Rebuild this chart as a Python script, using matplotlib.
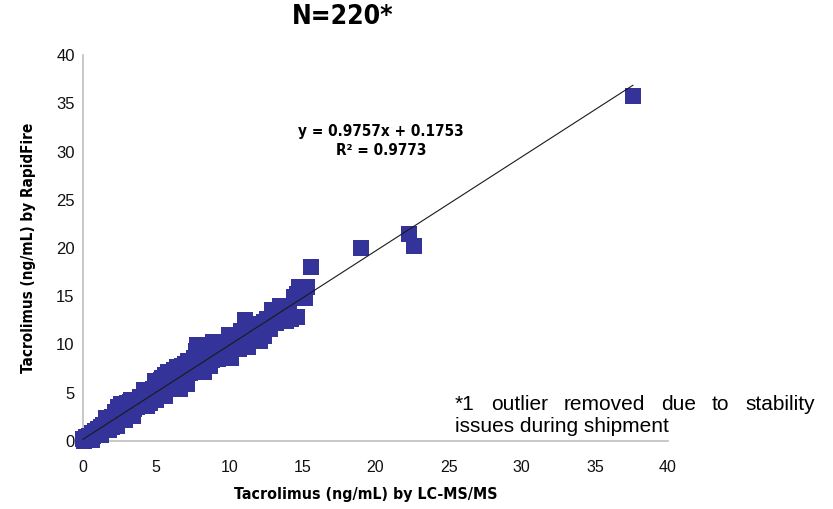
import matplotlib
matplotlib.use("Agg")
import matplotlib.pyplot as plt
import numpy as np
from matplotlib import font_manager

# ---------------- data ----------------
x_lcms = [0.0, 0.1, 0.2, 0.3, 0.4, 0.5, 0.6, 0.7, 0.8, 0.9, 1.0, 1.1, 1.2, 1.3, 1.4, 1.5,
          1.6, 1.7, 1.8, 1.9, 2.0, 2.1, 2.2, 2.3, 2.4, 2.5, 2.6, 2.7, 2.8, 2.9, 3.0, 3.1,
          3.2, 3.3, 3.4, 3.5, 3.6, 3.7, 3.8, 3.9, 4.0, 4.1, 4.2, 4.3, 4.4, 4.5, 4.6, 4.7,
          4.8, 4.9, 5.0, 5.1, 5.2, 5.3, 5.4, 5.5, 5.6, 5.7, 5.8, 5.9, 6.0, 6.1, 6.2, 6.3,
          6.4, 6.5, 6.6, 6.7, 6.8, 6.9, 7.0, 7.1, 7.2, 7.3, 7.4, 7.5, 7.6, 7.7, 7.8, 7.9,
          8.0, 8.1, 8.2, 8.3, 8.4, 8.5, 8.6, 8.8, 9.0, 9.2, 9.4, 9.6, 9.8, 10.0, 10.2, 10.4,
          10.6, 10.8, 11.0, 11.1, 11.3, 11.5, 11.8, 12.0, 12.2, 12.4, 12.4, 12.6, 12.9, 13.0,
          13.3, 13.6, 13.9, 14.0, 14.2, 14.4, 14.6, 14.8, 15.0, 15.2, 15.3, 15.6, 19.0, 22.3,
          22.6, 37.6,
          0.5, 1.0, 1.5, 2.0, 2.5, 3.0, 3.5, 4.0, 4.5, 5.0, 5.5, 6.0, 6.5, 7.0, 7.5, 8.0,
          8.5, 9.0, 9.5, 10.0, 10.5, 11.0, 11.5, 12.0, 13.0, 14.0, 3.0, 4.0, 5.0, 6.0, 7.0,
          8.0, 9.0, 2.0, 1.0, 0.2, 0.3,
          1.2, 1.8, 2.3, 2.6, 3.4, 3.9, 4.4, 4.9, 5.0, 5.6, 6.1, 6.6, 7.1, 7.7, 8.3, 8.9,
          9.5, 10.0, 10.1, 10.7, 11.2, 12.1, 12.8, 13.5, 14.1, 14.6, 2.0, 3.3, 4.6, 5.8,
          6.9, 8.7, 9.9, 11.4, 13.2, 0.6, 1.6, 2.9, 4.2, 5.3]
y_rapidfire = [0.2, 0.0, 0.4, 0.1, 0.5, 0.3, 0.8, 0.5, 1.0, 0.7, 1.2, 0.9, 1.5, 1.1, 1.7, 1.3,
               2.0, 1.5, 2.2, 1.7, 2.5, 1.9, 3.0, 2.1, 3.5, 2.4, 3.8, 2.6, 3.2, 2.8, 3.9, 2.9,
               4.0, 3.1, 3.6, 3.3, 4.1, 3.5, 4.3, 3.7, 4.5, 3.9, 4.9, 4.1, 5.1, 4.3, 5.0, 4.5,
               5.4, 4.6, 5.7, 4.8, 6.0, 4.9, 6.5, 5.2, 6.8, 5.5, 6.4, 5.7, 7.0, 5.9, 7.4, 6.1,
               7.7, 6.2, 7.2, 6.4, 7.8, 6.6, 8.0, 6.8, 8.3, 7.0, 8.1, 7.1, 8.6, 7.4, 10.0, 7.6,
               9.9, 7.8, 9.0, 8.0, 9.3, 8.1, 9.6, 8.4, 9.7, 8.5, 9.5, 8.6, 10.1, 9.2, 10.6, 11.0,
               9.8, 11.4, 10.2, 12.5, 9.7, 11.3, 10.5, 12.1, 11.0, 12.3, 10.9, 12.6, 13.6, 12.5,
               13.0, 13.4, 12.4, 14.0, 12.6, 14.9, 15.2, 16.0, 15.5, 14.8, 16.0, 18.0, 20.0, 21.5,
               20.2, 35.7,
               0.5, 1.0, 1.6, 2.1, 2.9, 3.2, 3.7, 4.2, 4.8, 5.2, 5.8, 6.4, 6.9, 7.3, 7.9, 8.5,
               8.9, 9.0, 9.6, 10.0, 10.4, 11.0, 12.0, 11.5, 13.2, 13.5, 3.6, 3.8, 4.9, 6.8, 6.9,
               7.9, 8.6, 1.8, 0.6, 0.2, 0.3,
               0.6, 1.1, 1.6, 3.6, 2.6, 4.6, 3.6, 6.2, 4.2, 4.7, 7.2, 5.4, 5.9, 9.3, 7.1, 10.3,
               8.7, 11.0, 8.6, 9.5, 11.8, 10.4, 11.6, 14.0, 13.4, 12.9, 1.5, 4.3, 3.9, 7.1,
               6.0, 7.8, 9.1, 10.6, 12.2, 0.1, 2.4, 2.2, 5.3, 6.3]

fit_slope = 0.9757
fit_intercept = 0.1753
r_squared = 0.9773

title_text = "N=220*"
x_label = "Tacrolimus (ng/mL) by LC-MS/MS"
y_label = "Tacrolimus (ng/mL) by RapidFire"
tick_values = [0, 5, 10, 15, 20, 25, 30, 35, 40]
note_line1 = ["*1", "outlier", "removed", "due", "to", "stability"]
note_line2 = "issues during shipment"

# ---------------- fonts ----------------
regular = "Liberation Sans"
cond = dict(family="DejaVu Sans", fontstretch="condensed", fontweight="bold")

W, H, DPI = 833, 509, 100
fig = plt.figure(figsize=(W / DPI, H / DPI), dpi=DPI)
ax = fig.add_axes([83 / W, 1 - 441 / H, (668 - 83) / W, (441 - 55) / H])

ax.plot(x_lcms, y_rapidfire, linestyle="none", marker="s", markersize=11,
        markeredgewidth=0, color="#333399", clip_on=False, zorder=3)

xs = np.array([min(x_lcms), max(x_lcms)])
ax.plot(xs, fit_slope * xs + fit_intercept, color="#1a1a1a", lw=0.8, zorder=4,
        clip_on=False)

ax.set_xlim(0, 40)
ax.set_ylim(0, 40)
ax.set_xticks(tick_values)
ax.set_yticks(tick_values)
ax.tick_params(length=0, pad=14)
ax.tick_params(axis="y", pad=6)
for lab in ax.get_xticklabels():
    lab.set_fontfamily(regular)
    lab.set_fontsize(11.5)
    lab.set_color("#111111")
for lab in ax.get_yticklabels():
    lab.set_fontfamily(regular)
    lab.set_fontsize(12)
    lab.set_color("#111111")
for s in ["top", "right"]:
    ax.spines[s].set_visible(False)
for s in ["left", "bottom"]:
    ax.spines[s].set_color("#BFBFBF")
    ax.spines[s].set_linewidth(1.2)
ax.patch.set_alpha(0)

# title
fig.text(343 / W, 1 - 17 / H, title_text, ha="center", va="center",
         fontsize=19, **cond)

# equation
eq = f"y = {fit_slope}x + {fit_intercept}\nR² = {r_squared}"
fig.text(381 / W, 1 - 141 / H, eq, ha="center", va="center", fontsize=11,
         linespacing=1.4, **cond)

# axis labels
fig.text(366 / W, 1 - 495 / H, x_label, ha="center", va="center",
         fontsize=11.4, **cond)
fig.text(29 / W, 1 - 248 / H, y_label, ha="center", va="center", rotation=90,
         fontsize=11, **cond)

# note (justified first line)
fig.canvas.draw()
renderer = fig.canvas.get_renderer()
left_px, right_px = 455, 815
y1 = 1 - 404 / H
y2 = 1 - 426 / H
note_fs = 15
words = []
widths = []
for w_ in note_line1:
    t = fig.text(0, y1, w_, fontsize=note_fs, family=regular, va="center", ha="left")
    bb = t.get_window_extent(renderer=renderer)
    words.append(t)
    widths.append(bb.width)
gap = (right_px - left_px - sum(widths)) / (len(words) - 1)
pos = left_px
for t, wd in zip(words, widths):
    t.set_x(pos / W)
    pos += wd + gap
fig.text(left_px / W, y2, note_line2, fontsize=note_fs, family=regular,
         va="center", ha="left")

fig.savefig("out.png", dpi=DPI)
